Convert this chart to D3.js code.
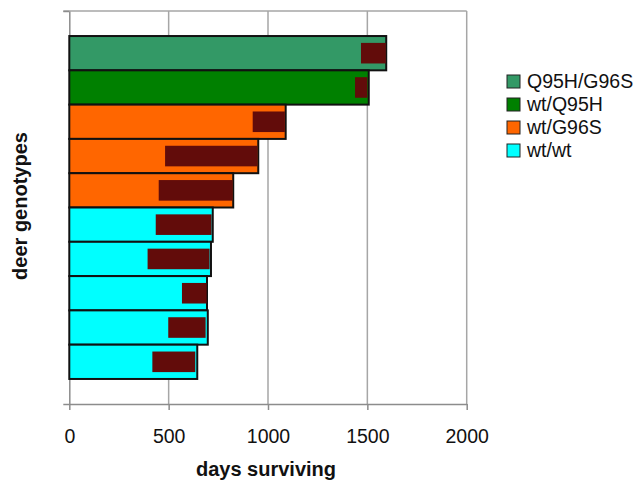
<!DOCTYPE html>
<html>
<head>
<meta charset="utf-8">
<script src="https://cdn.jsdelivr.net/npm/d3@7"></script>
<style>
  body { margin: 0; background: #fff; }
  svg { display: block; font-family: "Liberation Sans", Arial, sans-serif; }
</style>
</head>
<body>
<script>
// one bar per deer, top to bottom
let deer = ["d1", "d2", "d3", "d4", "d5", "d6", "d7", "d8", "d9", "d10"]
let genotype = ["Q95H/G96S", "wt/Q95H", "wt/G96S", "wt/G96S", "wt/G96S", "wt/wt", "wt/wt", "wt/wt", "wt/wt", "wt/wt"]
let survival = [1595, 1507, 1089, 951, 825, 722, 713, 693, 697, 644]
let rangeStart = [1468, 1438, 923, 482, 450, 435, 394, 567, 498, 418]
let rangeEnd = [1593, 1500, 1085, 947, 822, 716, 706, 691, 686, 634]

let legendNames = ["Q95H/G96S", "wt/Q95H", "wt/G96S", "wt/wt"]
let legendColors = ["#339966", "#008000", "#ff6600", "#00ffff"]
let xTicks = [0, 500, 1000, 1500, 2000]

let width = 642
let height = 482
let plotLeft = 69.3, plotRight = 466.7, plotTop = 11, plotBottom = 404

let svg = d3.select("body")
    .append("svg")
    .attr("width", width)
    .attr("height", height)

let color = d3.scaleOrdinal()
    .domain(legendNames)
    .range(legendColors)

let x = d3.scaleLinear()
    .domain([0, 2000])
    .range([plotLeft, plotRight])

let y = d3.scaleBand()
    .domain(deer)
    .range([plotTop, plotBottom])
    .paddingInner(0)
    .paddingOuter(0.73)

let axisColor = "#8c8c8c"

//grid lines (last one closes the plot on the right)
svg.selectAll(".grid")
    .data(xTicks.slice(1))
    .enter()
    .append("line")
    .attr("class", "grid")
    .attr("x1", d => x(d))
    .attr("x2", d => x(d))
    .attr("y1", plotTop)
    .attr("y2", plotBottom)
    .attr("stroke", "#a6a6a6")
    .attr("stroke-width", 1.5)

//top border
svg.append("line")
    .attr("x1", plotLeft - 6)
    .attr("x2", plotRight)
    .attr("y1", plotTop)
    .attr("y2", plotTop)
    .attr("stroke", "#a6a6a6")
    .attr("stroke-width", 1.5)

//x axis
let xAxis = svg.append("g")
    .attr("transform", `translate(0, ${plotBottom})`)
    .call(d3.axisBottom(x).tickValues(xTicks).tickFormat(d3.format("d"))
        .tickSize(6).tickSizeOuter(0).tickPadding(19))
xAxis.selectAll("text")
    .attr("fill", "#111")
    .style("font-size", "19.5px")
xAxis.selectAll("line, path")
    .attr("stroke", axisColor)
    .attr("stroke-width", 1.5)

//y axis, only end ticks
let yFrame = d3.scaleLinear().domain([0, 1]).range([plotBottom, plotTop])
let yAxis = svg.append("g")
    .attr("transform", `translate(${plotLeft}, 0)`)
    .call(d3.axisLeft(yFrame).tickValues([0, 1]).tickFormat("").tickSize(6).tickSizeOuter(0))
yAxis.selectAll("line, path")
    .attr("stroke", axisColor)
    .attr("stroke-width", 1.5)

//bars
let rows = deer.map((d, i) => ({
    id: d, g: genotype[i], v: survival[i], s: rangeStart[i], e: rangeEnd[i]
}))

svg.selectAll(".bar")
    .data(rows)
    .enter()
    .append("rect")
    .attr("class", "bar")
    .attr("x", x(0))
    .attr("y", d => y(d.id))
    .attr("width", d => x(d.v) - x(0))
    .attr("height", y.bandwidth())
    .attr("fill", d => color(d.g))
    .attr("stroke", "#111")
    .attr("stroke-width", 2)

svg.selectAll(".range")
    .data(rows)
    .enter()
    .append("rect")
    .attr("class", "range")
    .attr("x", d => x(d.s))
    .attr("y", d => y(d.id) + y.bandwidth() * 0.2)
    .attr("width", d => x(d.e) - x(d.s))
    .attr("height", y.bandwidth() * 0.6)
    .attr("fill", "#620c0a")

//axis titles
svg.append("text")
    .attr("x", 266)
    .attr("y", 476)
    .attr("text-anchor", "middle")
    .style("font-size", "20px")
    .style("font-weight", "bold")
    .attr("fill", "#111")
    .text("days surviving")

svg.append("text")
    .attr("transform", "translate(27, 206) rotate(-90)")
    .attr("text-anchor", "middle")
    .style("font-size", "20px")
    .style("font-weight", "bold")
    .attr("fill", "#111")
    .text("deer genotypes")

//legend
let legend = svg.append("g")
    .attr("transform", "translate(507, 75)")
let item = legend.selectAll("g")
    .data(legendNames)
    .enter()
    .append("g")
    .attr("transform", (d, i) => `translate(0, ${i * 23})`)
item.append("rect")
    .attr("width", 13)
    .attr("height", 13)
    .attr("fill", d => color(d))
    .attr("stroke", "#222")
    .attr("stroke-width", 1)
item.append("text")
    .attr("x", 20)
    .attr("y", 13)
    .style("font-size", "19.5px")
    .attr("fill", "#111")
    .text(d => d)
</script>
</body>
</html>
